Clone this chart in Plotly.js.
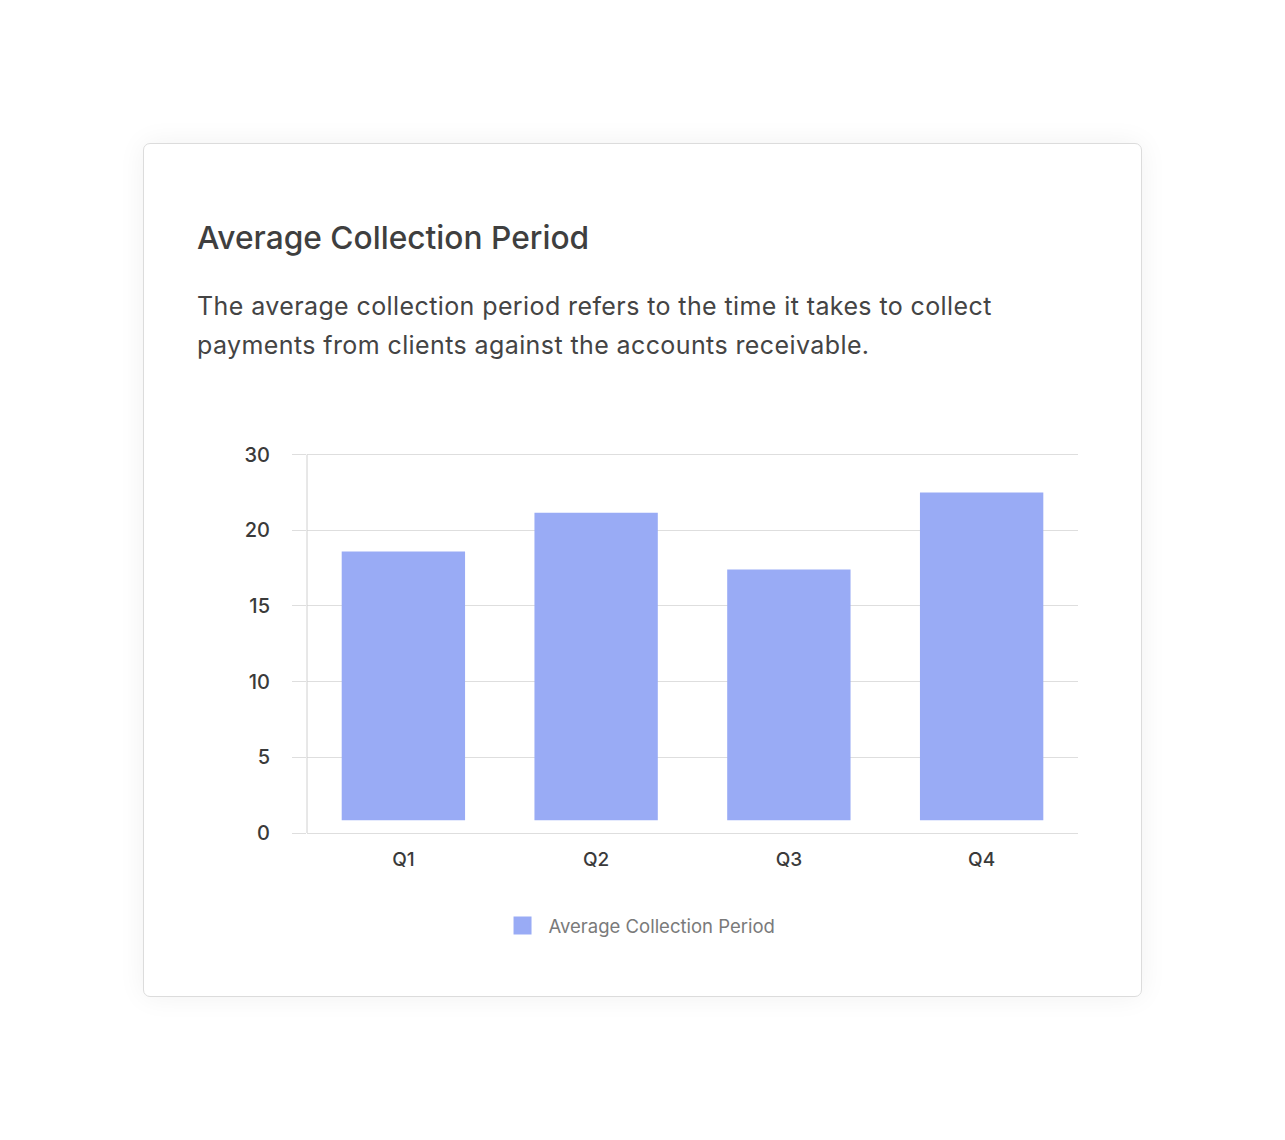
<!DOCTYPE html>
<html>
<head>
<meta charset="utf-8">
<script src="https://cdn.plot.ly/plotly-3.0.1.min.js"></script>
<style>
  html, body { margin: 0; padding: 0; background: #fff; }
  body { width: 1285px; height: 1140px; position: relative; overflow: hidden; font-family: Inter, "Noto Sans", sans-serif; }
  .tarjeta {
    position: absolute; left: 143px; top: 143px; width: 997px; height: 852px;
    border: 1px solid #dcdcdc; border-radius: 7px; background: #fff;
    box-shadow: 0 0 28px rgba(0, 0, 0, 0.06);
  }
  .titulo {
    position: absolute; left: 197px; top: 218px; margin: 0;
    font-size: 31.7px; font-weight: 500; color: #3f3f3f;
  }
  .bajada {
    position: absolute; left: 197px; top: 287px; width: 880px; margin: 0;
    font-size: 25px; line-height: 39px; font-weight: 400; color: #444; letter-spacing: 0.4px;
  }
  #grafico { position: absolute; left: 0; top: 0; width: 1285px; height: 1140px; }
</style>
</head>
<body>
<div class="tarjeta"></div>
<h1 class="titulo">Average Collection Period</h1>
<p class="bajada">The average collection period refers to the time it takes to collect<br>payments from clients against the accounts receivable.</p>
<div id="grafico"></div>
<script>
// Trimestres y valores (tope de cada barra, en días)
const TRIMESTRES = ['Q1', 'Q2', 'Q3', 'Q4'];
const TOPES = [18.6, 21.15, 17.4, 22.5];
const BASE_BARRAS = 0.85; // las barras arrancan un poco por encima del 0

// Ticks del eje Y: el original rotula "30" sobre la línea de 25
const TICKS_Y = [0, 5, 10, 15, 20, 25];
const ETIQUETAS_Y = ['0', '5', '10', '15', '20', '30'];

const NOMBRE_SERIE = 'Average Collection Period';
const COLOR_BARRA = '#99abf5';
const GRIS_GRILLA = '#dedede';

const barras = {
  type: 'bar',
  name: NOMBRE_SERIE,
  x: TRIMESTRES,
  y: TOPES.map((t) => t - BASE_BARRAS),
  base: TOPES.map(() => BASE_BARRAS),
  width: 0.64,
  marker: { color: COLOR_BARRA, line: { width: 0 } },
  showlegend: false,
};

// Traza vacía solo para la leyenda: el ícono de barra de Plotly es más chico
// que el cuadrado del original, un marcador 'square' se acerca más.
const leyenda = {
  type: 'scatter',
  mode: 'markers',
  name: NOMBRE_SERIE,
  x: [TRIMESTRES[0]],
  y: [null],
  marker: { symbol: 'square', size: 16, color: COLOR_BARRA, line: { width: 2, color: COLOR_BARRA } },
  showlegend: true,
};

// El eje llega apenas por encima de 25 para que la línea superior de la
// grilla se dibuje (en el borde exacto Plotly la omite).
const layout = {
  width: 1285,
  height: 1140,
  margin: { l: 307, r: 207, t: 447, b: 307, pad: 0 },
  paper_bgcolor: 'rgba(0,0,0,0)',
  plot_bgcolor: 'rgba(0,0,0,0)',
  font: { family: 'Inter, "Noto Sans", sans-serif', size: 19, color: '#3a3a3a' },
  showlegend: true,
  legend: {
    orientation: 'h', x: 0.43, xanchor: 'center', y: -0.241, yanchor: 'middle',
    itemwidth: 42,
    font: { size: 18.5, color: '#7a7a7a' }, bgcolor: 'rgba(0,0,0,0)',
  },
  xaxis: {
    type: 'category',
    showgrid: false, showline: false, zeroline: false,
    ticks: '', ticklabelstandoff: 13,
    tickfont: { size: 19, color: '#3a3a3a', weight: 500 },
  },
  yaxis: {
    range: [0, 25.5],
    tickvals: TICKS_Y,
    ticktext: ETIQUETAS_Y,
    showgrid: true, gridcolor: GRIS_GRILLA, gridwidth: 1,
    zeroline: true, zerolinecolor: GRIS_GRILLA, zerolinewidth: 1,
    showline: false,
    ticks: 'outside', ticklen: 14, tickcolor: GRIS_GRILLA, tickwidth: 1,
    ticklabelstandoff: 18,
    tickfont: { size: 20, color: '#3a3a3a', weight: 500 },
  },
  // línea vertical del eje Y, solo entre 0 y 25 como en el original
  shapes: [{
    type: 'line', xref: 'paper', x0: 0, x1: 0, yref: 'y', y0: 0, y1: TICKS_Y[TICKS_Y.length - 1],
    line: { color: '#d0d0d0', width: 1 },
  }],
};

Plotly.newPlot('grafico', [barras, leyenda], layout, { displayModeBar: false, staticPlot: true });
</script>
</body>
</html>
